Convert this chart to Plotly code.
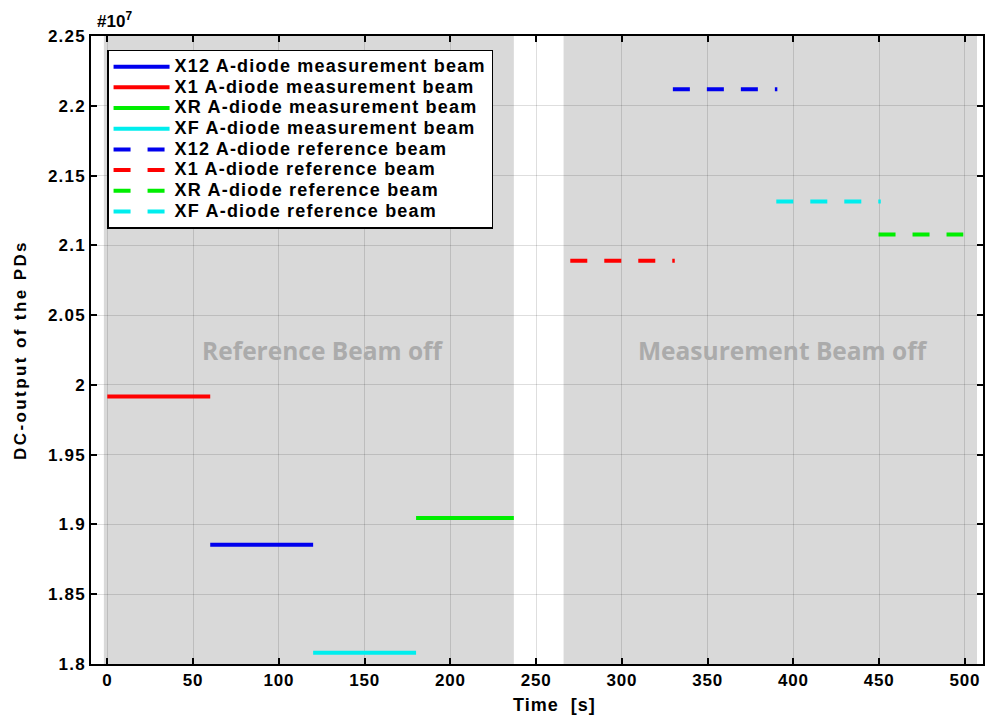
import plotly.graph_objects as go

# ---- data (values in units of 1e7) ----
series_names = [
    "X12 A-diode measurement beam",
    "X1 A-diode measurement beam",
    "XR A-diode measurement beam",
    "XF A-diode measurement beam",
    "X12 A-diode reference beam",
    "X1 A-diode reference beam",
    "XR A-diode reference beam",
    "XF A-diode reference beam",
]
series_colors = ["#0000ee", "#ff0000", "#00ee00", "#00eeee",
                 "#0000ee", "#ff0000", "#00ee00", "#00eeee"]
series_dash = ["solid"] * 4 + ["17px,17px"] * 4

t_start = [60, 0, 180, 120, 329.7, 269.9, 449.6, 390.0]
t_end = [120, 60, 237, 180, 390.6, 330.8, 499.0, 450.9]
levels = [1.8854, 1.9916, 1.9047, 1.8081, 2.2118, 2.0889, 2.1078, 2.1314]

region_x0 = [-2, 266]
region_x1 = [237, 507]
region_labels = ["Reference Beam off", "Measurement Beam off"]
region_label_x = [126, 394]
region_label_y = 2.025

x_ticks = [0, 50, 100, 150, 200, 250, 300, 350, 400, 450, 500]
y_ticks = [1.8, 1.85, 1.9, 1.95, 2.0, 2.05, 2.1, 2.15, 2.2, 2.25]
y_ticktext = ["1.8", "1.85", "1.9", "1.95", "2", "2.05", "2.1", "2.15", "2.2", "2.25"]

FONT = "Liberation Sans"


def styled(text, size, spacing):
    return "<span style='font-size:%dpx;letter-spacing:%.1fpx'><b>%s</b></span>" % (size, spacing, text)


fig = go.Figure()
for name, c, d, t0, t1, v in zip(series_names, series_colors, series_dash, t_start, t_end, levels):
    fig.add_trace(go.Scatter(
        x=[t0, t1], y=[v, v], mode="lines", name=styled(name, 18, 1.2),
        line=dict(color=c, width=4, dash=d),
    ))

for x0, x1, label, xc in zip(region_x0, region_x1, region_labels, region_label_x):
    fig.add_shape(type="rect", xref="x", yref="paper", x0=x0, x1=x1, y0=0, y1=1,
                  fillcolor="#d9d9d9", line=dict(width=0), layer="below")
    fig.add_annotation(x=xc, y=region_label_y, xref="x", yref="y", text="<b>" + label + "</b>",
                       showarrow=False, font=dict(family="Open Sans", size=24.5, color="#ababab"))

fig.add_annotation(xref="paper", yref="paper", x=0.004, y=1.0, xanchor="left", yanchor="bottom",
                   text="<b>#10<sup>7</sup></b>", showarrow=False, yshift=3,
                   font=dict(family=FONT, size=17, color="black"))

# x-axis title (placed slightly right of centre, as in the original)
fig.add_annotation(xref="paper", yref="paper", x=0.52, y=-0.0653, xanchor="center", yanchor="middle",
                   text=styled("Time  [s]", 18, 1.0), showarrow=False,
                   font=dict(family=FONT, size=18, color="black"))

axis_common = dict(
    showline=True, linecolor="black", linewidth=1.5, mirror="ticks",
    ticks="inside", ticklen=6, tickcolor="black", tickwidth=1.5,
    showgrid=True, gridcolor="rgba(0,0,0,0.13)", gridwidth=1, zeroline=False,
    tickfont=dict(family=FONT, size=17, color="black"),
)

fig.update_layout(
    width=992, height=720,
    margin=dict(l=91, r=7, t=36, b=56),
    paper_bgcolor="white", plot_bgcolor="white",
    font=dict(family=FONT, color="black"),
    xaxis=dict(range=[-9.5, 510.5], tickvals=x_ticks,
               ticktext=[styled(str(v), 17, 0.8) for v in x_ticks],
               **axis_common),
    yaxis=dict(range=[1.8, 2.25], tickvals=y_ticks,
               ticktext=[styled(s, 17, 1.2) for s in y_ticktext],
               title=dict(text=styled("DC-output of the PDs", 17, 2.4), font=dict(family=FONT, size=17), standoff=17),
               **axis_common),
    legend=dict(x=0.018, y=0.978, xanchor="left", yanchor="top",
                bgcolor="white", bordercolor="black", borderwidth=1.5,
                font=dict(family=FONT, size=13.6, color="black"),
                itemwidth=56, tracegroupgap=0, itemclick=False),
    showlegend=True,
)

fig.write_html("out.html")
